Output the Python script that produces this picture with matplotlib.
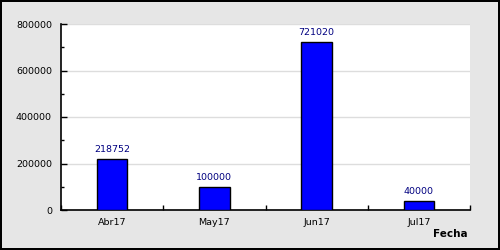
import matplotlib.pyplot as plt
import numpy as np

# data
months = ["Abr17", "May17", "Jun17", "Jul17"]
totals = [218752, 100000, 721020, 40000]
y_max = 800000

px = 0.72  # one pixel in points at dpi 100
font_size = 6.8

fig = plt.figure(figsize=(5, 2.5), dpi=100)
fig.patch.set_facecolor("#e6e6e6")
fig.patch.set_edgecolor("black")
fig.patch.set_linewidth(1.5)

ax = fig.add_axes([0.122, 0.16, 0.818, 0.744])
ax.set_facecolor("white")

positions = np.arange(len(months))
bars = ax.bar(positions, totals, width=0.3, color="#0000ff", edgecolor="black", linewidth=1, zorder=3)
for pos, value in zip(positions, totals):
    ax.annotate(str(value), (pos, value), xytext=(0, 5 * px), textcoords="offset points",
                ha="center", va="bottom", fontsize=font_size, color="#000080")

ax.set_xlim(-0.5, len(months) - 0.5)
ax.set_ylim(0, y_max)

# x axis: boundary ticks pointing in, labels at the bar centres
ax.set_xticks(np.arange(len(months) + 1) - 0.5)
ax.set_xticklabels([])
ax.set_xticks(positions, minor=True)
ax.set_xticklabels(months, minor=True, fontsize=font_size)
ax.tick_params(axis="x", which="major", direction="in", length=5 * px, width=1)
ax.tick_params(axis="x", which="minor", length=0, pad=8 * px)

# y axis: grid at the major ticks, short minor ticks between
ax.set_yticks(np.arange(0, y_max + 1, 200000))
ax.set_yticklabels([str(v) for v in range(0, y_max + 1, 200000)], fontsize=font_size)
ax.set_yticks(np.arange(100000, y_max, 200000), minor=True)
ax.tick_params(axis="y", which="major", direction="in", length=6 * px, width=1, pad=9 * px)
ax.tick_params(axis="y", which="minor", direction="in", length=3 * px, width=1)
ax.yaxis.grid(True, which="major", color="#dddddd", linewidth=1, zorder=0)

for side in ["top", "right"]:
    ax.spines[side].set_visible(False)
for side in ["left", "bottom"]:
    ax.spines[side].set_linewidth(1.2)

fig.text(0.936, 0.045, "Fecha", ha="right", va="bottom", fontsize=7.5, fontweight="bold")

fig.savefig("out.png", dpi=100, facecolor=fig.get_facecolor(), edgecolor=fig.get_edgecolor())
